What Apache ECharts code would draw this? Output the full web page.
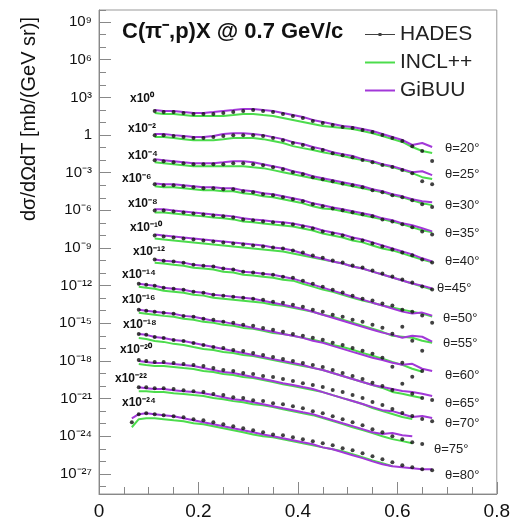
<!DOCTYPE html>
<html>
<head>
<meta charset="utf-8">
<script src="https://cdn.jsdelivr.net/npm/echarts@6/dist/echarts.min.js"></script>
<style>
html, body { margin: 0; padding: 0; background: #fff; }
#chart { width: 513px; height: 526px; }
</style>
</head>
<body>
<div id="chart"></div>
<script>
// proton kinetic energy T [GeV], shared grid for every angle
const energyT = [0.066, 0.08, 0.095, 0.112, 0.13, 0.15, 0.17, 0.19, 0.21, 0.23, 0.25, 0.27, 0.29, 0.31, 0.33, 0.35,
  0.37, 0.39, 0.41, 0.43, 0.45, 0.47, 0.49, 0.51, 0.53, 0.55, 0.57, 0.59, 0.61, 0.63, 0.65, 0.67];

// emission angles and the power of ten each spectrum is scaled by
const angles = [20, 25, 30, 35, 40, 45, 50, 55, 60, 65, 70, 75, 80];
const scaleExp = [0, -2, -4, -6, -8, -10, -12, -14, -16, -18, -20, -22, -24];

// y axis: decades shown with labels
const yLabelExp = [9, 6, 3, 0, -3, -6, -9, -12, -15, -18, -21, -24, -27];

// HADES data, dσ/dΩdT in mb/(GeV sr), before scaling
const hadesData = [
  [null, null, null, 82, 68, 68, 57, 47, 47, 47, 57, 68, 82, 98, 82, 68, 47, 33, 23, 13, 9.0, 6.3, 4.3, 3.6, 2.5, 1.7, 1.0, 0.58, 0.33, 0.13, 0.053, 0.0085],
  [null, null, null, 98, 98, 82, 68, 57, 57, 68, 82, 98, 98, 98, 82, 57, 39, 23, 16, 9.0, 6.3, 3.6, 2.5, 1.7, 1.0, 0.69, 0.40, 0.28, 0.16, 0.092, 0.021, 0.012],
  [null, null, null, 98, 82, 68, 57, 47, 47, 47, 47, 57, 57, 47, 39, 27, 19, 11, 7.5, 4.3, 3.0, 2.1, 1.4, 1.0, 0.69, 0.40, 0.28, 0.16, 0.11, 0.064, 0.031, 0.018],
  [null, null, null, 120, 98, 98, 82, 68, 57, 57, 47, 47, 33, 27, 19, 16, 11, 7.5, 5.2, 3.0, 2.1, 1.4, 1.0, 0.69, 0.48, 0.33, 0.19, 0.13, 0.077, 0.044, 0.021, 0.012],
  [null, null, null, 98, 98, 82, 68, 57, 47, 39, 33, 27, 19, 16, 13, 11, 9.0, 7.5, 5.2, 3.6, 2.1, 1.4, 1.0, 0.58, 0.40, 0.23, 0.13, 0.077, 0.044, 0.026, 0.012, 0.0071],
  [null, null, null, 98, 82, 68, 57, 47, 39, 33, 27, 23, 19, 16, 13, 11, 9.0, 6.3, 4.3, 2.5, 1.7, 1.0, 0.69, 0.40, 0.28, 0.16, 0.092, 0.053, 0.031, 0.018, 0.0085, 0.0049],
  [null, null, null, 120, 98, 82, 68, 47, 39, 33, 23, 19, 13, 11, 9.0, 7.5, 5.2, 4.3, 2.5, 1.4, 0.83, 0.48, 0.28, 0.16, 0.092, 0.064, 0.037, 0.026, 0.012, 0.0085, 0.0041, 0.0011],
  [null, 140, 120, 98, 68, 57, 47, 33, 27, 19, 16, 13, 11, 9.0, 7.5, 5.2, 4.3, 3.0, 2.1, 1.2, 0.83, 0.48, 0.33, 0.19, 0.13, 0.077, 0.044, 0.015, 0.053, 0.0041, 0.00066, null],
  [null, 120, 98, 82, 68, 57, 39, 33, 23, 19, 13, 11, 7.5, 6.3, 4.3, 3.0, 2.1, 1.4, 1.0, 0.69, 0.48, 0.28, 0.19, 0.11, 0.064, 0.037, 0.018, 0.0034, 0.0071, 0.00055, 0.0016, null],
  [null, 140, 120, 82, 68, 47, 39, 27, 19, 13, 11, 7.5, 6.3, 4.3, 3.0, 2.1, 1.4, 1.0, 0.69, 0.48, 0.33, 0.19, 0.11, 0.064, 0.037, 0.018, 0.010, 0.0049, 0.015, 0.0024, 0.0011, 0.00079],
  [null, 120, 98, 82, 82, 68, 57, 47, 39, 27, 19, 16, 11, 9.0, 6.3, 5.2, 3.6, 2.5, 1.7, 1.2, 0.83, 0.48, 0.33, 0.19, 0.11, 0.053, 0.031, 0.015, 0.0071, 0.0041, 0.0024, 0.0016],
  [null, 82, 82, 68, 68, 57, 47, 39, 33, 23, 19, 13, 11, 7.5, 6.3, 4.3, 3.6, 2.5, 1.7, 1.0, 0.69, 0.40, 0.23, 0.13, 0.077, 0.037, 0.021, 0.010, 0.0059, 0.0034, 0.0024, null],
  [13, 57, 68, 57, 47, 39, 33, 23, 19, 13, 9.0, 6.3, 4.3, 3.0, 2.1, 1.4, 1.2, 0.83, 0.58, 0.40, 0.28, 0.19, 0.11, 0.077, 0.044, 0.026, 0.015, 0.0085, 0.0049, 0.0034, 0.0024, 0.0020]
];

// INCL++ prediction
const inclData = [
  [null, null, null, 57, 47, 47, 39, 33, 33, 33, 33, 39, 47, 47, 39, 33, 23, 16, 11, 7.5, 5.2, 4.3, 3.6, 3.0, 2.1, 1.4, 0.83, 0.48, 0.28, 0.11, 0.053, 0.037],
  [null, null, null, 68, 68, 57, 47, 39, 39, 39, 47, 57, 57, 57, 47, 33, 23, 13, 9.0, 6.3, 4.3, 3.0, 2.1, 1.4, 1.0, 0.69, 0.40, 0.28, 0.16, 0.092, 0.044, 0.031],
  [null, null, null, 68, 57, 47, 39, 33, 33, 33, 33, 33, 33, 27, 23, 16, 11, 7.5, 5.2, 3.6, 2.5, 1.7, 1.2, 0.83, 0.58, 0.40, 0.28, 0.16, 0.11, 0.064, 0.037, 0.026],
  [null, null, null, 82, 68, 68, 57, 47, 39, 39, 33, 33, 23, 19, 13, 11, 7.5, 5.2, 3.6, 2.1, 1.4, 1.2, 0.83, 0.58, 0.40, 0.28, 0.19, 0.13, 0.077, 0.044, 0.026, 0.018],
  [null, null, null, 68, 68, 57, 47, 39, 33, 27, 23, 19, 13, 11, 9.0, 7.5, 6.3, 5.2, 3.6, 2.5, 1.4, 1.0, 0.69, 0.40, 0.28, 0.16, 0.092, 0.064, 0.037, 0.021, 0.012, 0.0071],
  [null, null, null, 57, 47, 39, 33, 27, 23, 19, 16, 13, 11, 9.0, 7.5, 6.3, 5.2, 3.6, 2.5, 1.7, 1.2, 0.83, 0.58, 0.33, 0.23, 0.13, 0.077, 0.044, 0.026, 0.015, 0.0085, 0.0049],
  [null, null, null, 68, 57, 47, 39, 27, 23, 19, 13, 11, 7.5, 6.3, 5.2, 4.3, 3.0, 2.5, 1.4, 0.83, 0.48, 0.33, 0.19, 0.11, 0.064, 0.044, 0.026, 0.018, 0.012, 0.0085, 0.0059, 0.0034],
  [null, 82, 68, 57, 39, 33, 27, 19, 16, 11, 9.0, 7.5, 6.3, 5.2, 4.3, 3.0, 2.5, 1.7, 1.2, 0.83, 0.48, 0.33, 0.19, 0.11, 0.064, 0.037, 0.021, 0.010, 0.0085, 0.0071, 0.0041, 0.0028],
  [null, 68, 57, 47, 39, 33, 23, 19, 13, 11, 7.5, 6.3, 4.3, 3.6, 2.5, 1.7, 1.4, 1.0, 0.69, 0.48, 0.33, 0.19, 0.13, 0.077, 0.044, 0.026, 0.015, 0.0085, 0.0049, 0.0024, 0.0014, null],
  [null, 68, 57, 39, 33, 23, 19, 13, 9.0, 7.5, 5.2, 4.3, 3.0, 2.5, 1.7, 1.2, 0.83, 0.58, 0.40, 0.28, 0.19, 0.11, 0.064, 0.037, 0.021, 0.012, 0.0071, 0.0034, 0.0024, 0.0016, 0.0011, null],
  [null, 57, 47, 39, 39, 33, 27, 23, 16, 13, 9.0, 7.5, 5.2, 4.3, 3.0, 2.1, 1.4, 1.0, 0.69, 0.48, 0.33, 0.19, 0.11, 0.064, 0.037, 0.018, 0.010, 0.0059, 0.0034, 0.0024, null, null],
  [null, 39, 39, 33, 33, 27, 23, 19, 16, 11, 9.0, 6.3, 5.2, 3.6, 3.0, 2.1, 1.4, 1.0, 0.69, 0.48, 0.28, 0.16, 0.092, 0.053, 0.031, 0.018, 0.010, 0.0059, 0.0041, 0.0028, null, null],
  [5.2, 23, 27, 27, 23, 19, 16, 11, 9.0, 6.3, 4.3, 3.0, 2.1, 1.4, 1.0, 0.83, 0.58, 0.40, 0.28, 0.19, 0.13, 0.092, 0.064, 0.037, 0.021, 0.012, 0.0071, 0.0041, null, null, null, null]
];

// GiBUU prediction
const gibuuData = [
  [null, null, null, 98, 82, 82, 68, 57, 57, 68, 82, 98, 120, 120, 98, 82, 57, 39, 27, 16, 11, 7.5, 5.2, 4.3, 3.0, 2.1, 1.2, 0.69, 0.40, 0.16, 0.23, 0.11],
  [null, null, null, 120, 120, 98, 82, 68, 68, 82, 120, 140, 140, 120, 98, 68, 47, 27, 19, 11, 7.5, 4.3, 3.0, 2.1, 1.2, 0.83, 0.48, 0.33, 0.19, 0.11, 0.13, 0.064],
  [null, null, null, 120, 98, 82, 68, 57, 57, 57, 68, 82, 82, 68, 47, 33, 23, 13, 9.0, 5.2, 3.6, 2.5, 1.7, 1.2, 0.83, 0.48, 0.33, 0.19, 0.13, 0.077, 0.053, 0.044],
  [null, null, null, 140, 120, 120, 98, 82, 68, 68, 57, 57, 39, 33, 23, 19, 13, 9.0, 6.3, 3.6, 2.5, 1.7, 1.2, 0.83, 0.58, 0.40, 0.23, 0.16, 0.092, 0.064, 0.037, 0.021],
  [null, null, null, 120, 120, 98, 82, 68, 57, 47, 39, 33, 23, 19, 16, 13, 11, 9.0, 6.3, 4.3, 2.5, 1.7, 1.2, 0.69, 0.48, 0.28, 0.16, 0.092, 0.053, 0.031, 0.015, 0.0085],
  [null, null, null, 120, 98, 82, 68, 57, 47, 39, 33, 27, 23, 19, 16, 11, 9.0, 6.3, 3.6, 2.1, 1.4, 0.83, 0.58, 0.33, 0.23, 0.13, 0.077, 0.044, 0.026, 0.015, 0.010, 0.0059],
  [null, null, null, 120, 98, 82, 68, 47, 39, 33, 23, 19, 13, 11, 9.0, 7.5, 5.2, 3.6, 2.1, 1.2, 0.69, 0.40, 0.23, 0.13, 0.077, 0.044, 0.026, 0.015, 0.0085, 0.0059, 0.0071, 0.0041],
  [null, 140, 120, 98, 68, 57, 47, 33, 27, 19, 16, 13, 11, 9.0, 6.3, 4.3, 3.0, 2.1, 1.4, 0.83, 0.48, 0.28, 0.16, 0.092, 0.053, 0.031, 0.018, 0.012, 0.0071, 0.010, 0.0085, 0.0034],
  [null, 120, 98, 82, 68, 57, 39, 33, 23, 16, 13, 9.0, 6.3, 4.3, 3.0, 2.1, 1.4, 1.0, 0.69, 0.40, 0.28, 0.16, 0.092, 0.053, 0.031, 0.018, 0.012, 0.0071, 0.0049, 0.0059, 0.0024, 0.0016],
  [null, 140, 120, 82, 68, 47, 39, 27, 19, 13, 9.0, 6.3, 4.3, 3.0, 2.1, 1.4, 1.0, 0.69, 0.48, 0.28, 0.19, 0.11, 0.064, 0.037, 0.021, 0.012, 0.0085, 0.0059, 0.0041, 0.0034, 0.0024, 0.0016],
  [null, 98, 82, 68, 68, 57, 47, 39, 27, 19, 13, 11, 7.5, 5.2, 3.6, 2.5, 1.7, 1.2, 0.83, 0.58, 0.33, 0.19, 0.11, 0.064, 0.037, 0.021, 0.012, 0.010, 0.0059, 0.0034, 0.0041, 0.0028],
  [null, 82, 68, 57, 57, 47, 39, 33, 27, 19, 13, 9.0, 7.5, 5.2, 3.6, 2.5, 1.7, 1.2, 0.83, 0.58, 0.33, 0.19, 0.11, 0.064, 0.037, 0.021, 0.015, 0.018, 0.012, 0.010, null, null],
  [27, 57, 68, 57, 47, 39, 27, 19, 13, 9.0, 6.3, 4.3, 3.0, 2.1, 1.4, 1.0, 0.69, 0.48, 0.33, 0.23, 0.13, 0.092, 0.053, 0.031, 0.018, 0.010, 0.0059, 0.0041, 0.0034, 0.0028, 0.0024, 0.0024]
];

const green = '#4cdc4c';
const purple = '#a238d8';
const axisGray = '#888';
const supMap = { '-': '⁻', '0': '⁰', '1': '¹', '2': '²', '3': '³', '4': '⁴', '5': '⁵', '6': '⁶', '7': '⁷', '8': '⁸', '9': '⁹' };
const sup = n => String(n).split('').map(c => supMap[c]).join('');

// label placement (pixels)
const multPos = [[130, 99], [128, 129], [128, 156], [122, 179], [128, 204], [130, 228], [133, 252],
  [122, 275], [122, 300], [123, 325], [120, 350], [115, 379], [122, 403]];
const thetaPos = [[445, 148], [445, 174], [445, 205], [445, 233], [445, 261], [437, 288], [443, 318],
  [443, 343], [445, 375], [445, 403], [445, 423], [434, 449], [445, 475]];

const chart = echarts.init(document.getElementById('chart'));

// values are drawn on a log10 scale, each spectrum multiplied by its factor
const toPoints = (arr, e) => energyT
  .map((t, k) => (arr[k] == null ? null : [t, Math.log10(arr[k]) + e]))
  .filter(p => p);

const series = [];
angles.forEach((ang, i) => {
  series.push({
    name: 'INCL++', type: 'line', data: toPoints(inclData[i], scaleExp[i]),
    symbol: 'none', lineStyle: { color: green, width: 2 }, itemStyle: { color: green }, z: 2
  });
  series.push({
    name: 'GiBUU', type: 'line', data: toPoints(gibuuData[i], scaleExp[i]),
    symbol: 'none', lineStyle: { color: purple, width: 2 }, itemStyle: { color: purple }, z: 3
  });
  series.push({
    name: 'HADES', type: 'scatter', data: toPoints(hadesData[i], scaleExp[i]),
    symbol: 'circle', symbolSize: 4, itemStyle: { color: '#111' }, z: 4
  });
});

const graphics = [
  {
    type: 'text', left: 122, top: 21,
    style: { text: 'C(π⁻,p)X @ 0.7 GeV/c', font: 'bold 22px "Liberation Sans"', fill: '#111' }
  },
  {
    type: 'text', x: 29, y: 119, rotation: Math.PI / 2,
    style: { text: 'dσ/dΩdT [mb/(GeV sr)]', font: '20px "Liberation Sans"', fill: '#111', align: 'center', verticalAlign: 'middle' }
  }
];
angles.forEach((ang, i) => {
  graphics.push({
    type: 'text', x: multPos[i][0], y: multPos[i][1],
    style: { text: 'x10' + sup(scaleExp[i]), font: 'bold 12px "Liberation Sans"', fill: '#111', verticalAlign: 'middle' }
  });
  graphics.push({
    type: 'text', x: thetaPos[i][0], y: thetaPos[i][1],
    style: { text: 'θ=' + ang + '°', font: '13px "Liberation Sans"', fill: '#222', verticalAlign: 'middle' }
  });
});

const lineIcon = 'path://M0,0M30,12M0,5H30V7H0Z';

chart.setOption({
  animation: false,
  backgroundColor: '#fff',
  grid: { left: 99, right: 15, top: 10, bottom: 32, show: true, borderColor: '#999', borderWidth: 1 },
  legend: {
    orient: 'vertical', left: 360, top: 19, itemWidth: 30, itemHeight: 12, itemGap: 7,
    selectedMode: false,
    textStyle: { fontSize: 21, color: '#222', fontFamily: 'Liberation Sans' },
    data: [
      { name: 'HADES', icon: 'path://M0,0M30,12M0,5.5H30V6.5H0ZM13.5,4.5H16.5V7.5H13.5Z', itemStyle: { color: '#111' } },
      { name: 'INCL++', icon: lineIcon, itemStyle: { color: green } },
      { name: 'GiBUU', icon: lineIcon, itemStyle: { color: purple } }
    ]
  },
  xAxis: {
    type: 'value', min: 0, max: 0.8, interval: 0.2,
    axisLine: { onZero: false, lineStyle: { color: axisGray } },
    axisTick: { inside: true, length: 12, lineStyle: { color: axisGray } },
    minorTick: { show: true, splitNumber: 4, length: 7, lineStyle: { color: axisGray } },
    splitLine: { show: false },
    axisLabel: {
      fontSize: 19, color: '#111', fontFamily: 'Liberation Sans', margin: 8,
      formatter: v => (v === 0 ? '0' : v.toFixed(1))
    }
  },
  yAxis: [
    {
      // log10 of the cross section; decade ticks come from splitNumber
      type: 'value', min: -28.6, max: 9.96, splitNumber: 39,
      axisLine: { onZero: false, lineStyle: { color: axisGray } },
      axisTick: { inside: true, length: 7, lineStyle: { color: axisGray } },
      splitLine: { show: false },
      axisLabel: {
        interval: 0, fontSize: 15, color: '#111', fontFamily: 'Liberation Sans', margin: 7,
        formatter: v => (yLabelExp.indexOf(v) < 0 ? '' : (v === 0 ? '1' : '10' + sup(v)))
      }
    },
    {
      // longer ticks at the labelled decades
      type: 'value', min: -28.6, max: 9.96, position: 'left',
      axisLine: { show: false, onZero: false },
      axisTick: { inside: true, length: 12, customValues: yLabelExp, lineStyle: { color: axisGray } },
      axisLabel: { show: false },
      splitLine: { show: false }
    }
  ],
  graphic: graphics,
  series: series
});
</script>
